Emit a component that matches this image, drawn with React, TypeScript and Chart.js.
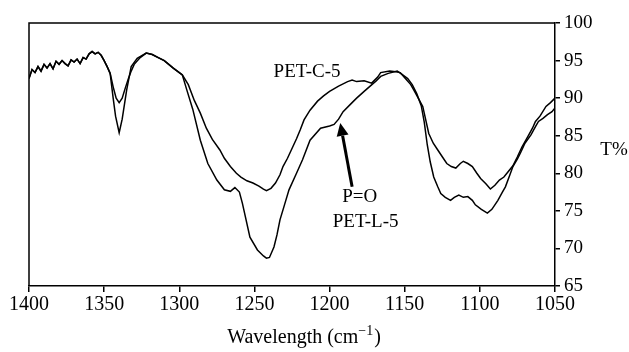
import { useEffect, useRef } from "react";
import { Chart, registerables } from "chart.js";

Chart.register(...registerables);

const FONT = "'Liberation Serif', 'Times New Roman', serif";

// Shared noisy start of both spectra (wavenumber, T%)
const sharedX = [1400, 1398, 1396, 1394, 1392, 1390, 1388, 1386, 1384, 1382, 1380, 1378, 1376, 1374, 1372, 1370, 1368, 1366, 1364, 1362, 1360, 1358, 1356, 1354, 1352, 1350, 1348, 1346];
const sharedY = [92.6, 93.8, 93.4, 94.2, 93.6, 94.5, 94.0, 94.6, 93.9, 94.9, 94.5, 95.0, 94.6, 94.3, 95.1, 94.8, 95.2, 94.6, 95.4, 95.2, 95.9, 96.2, 95.9, 96.1, 95.7, 95.0, 94.2, 93.3];

// PET-C-5
const pcX = [1344, 1342, 1340, 1338, 1336, 1334, 1332, 1330, 1326, 1322, 1318, 1314, 1310, 1304, 1298, 1294, 1290, 1286, 1282, 1278, 1273, 1270, 1266, 1262, 1259, 1255, 1251, 1247, 1244, 1242, 1239, 1236, 1233, 1231, 1228, 1225, 1222, 1219.5, 1217, 1213, 1208, 1204, 1200, 1194, 1188, 1185, 1182, 1177, 1172, 1168, 1166, 1160, 1156, 1153, 1150, 1146, 1144, 1141, 1138, 1134, 1131, 1128, 1125, 1122, 1119, 1116, 1113, 1111, 1108, 1105, 1102, 1099.5, 1096, 1093, 1090, 1087, 1084, 1082, 1078, 1075, 1072, 1068, 1065, 1063, 1060, 1056, 1053, 1050];
const pcY = [91.5, 90.0, 89.4, 90.0, 91.3, 92.5, 93.6, 94.5, 95.4, 96.0, 95.8, 95.4, 95.0, 94.0, 93.1, 91.8, 89.7, 88.0, 86.0, 84.5, 83.1, 82.0, 80.9, 80.0, 79.5, 79.0, 78.7, 78.3, 77.9, 77.7, 78.0, 78.7, 79.8, 80.9, 82.0, 83.3, 84.6, 85.8, 87.1, 88.4, 89.6, 90.3, 90.9, 91.6, 92.2, 92.4, 92.2, 92.3, 92.0, 92.8, 93.4, 93.6, 93.5, 93.4, 92.7, 91.8, 91.1, 90.0, 88.9, 85.3, 84.0, 83.1, 82.2, 81.3, 80.9, 80.7, 81.3, 81.6, 81.3, 80.9, 80.0, 79.3, 78.6, 77.9, 78.4, 79.1, 79.5, 80.0, 81.0, 82.2, 83.5, 84.9, 86.0, 86.9, 87.6, 88.9, 89.4, 90.0];

// PET-L-5
const plX = [1344, 1342.4, 1340, 1338, 1335, 1332, 1328, 1322, 1318, 1314, 1310, 1304, 1298, 1295, 1291, 1286, 1281, 1275, 1270, 1266, 1263, 1260, 1258, 1256, 1253, 1248, 1244, 1242, 1240, 1237, 1235, 1233, 1230, 1227, 1222, 1218, 1213, 1206, 1200, 1197, 1194, 1191, 1186, 1182, 1177, 1173, 1169, 1166, 1161, 1155, 1152, 1148, 1145, 1142, 1139, 1137, 1135, 1133, 1130.7, 1128, 1126, 1123, 1119.5, 1117, 1114, 1111, 1108, 1105, 1103, 1099, 1095, 1092, 1088, 1085, 1083, 1080, 1078, 1075, 1073, 1070, 1066, 1063, 1061, 1058, 1055, 1052, 1050];
const plY = [90.0, 87.6, 85.4, 87.2, 91.1, 94.2, 95.3, 96.0, 95.8, 95.4, 95.0, 94.0, 93.1, 91.1, 88.5, 84.4, 81.3, 79.1, 77.8, 77.6, 78.1, 77.5, 76.0, 74.2, 71.5, 69.8, 69.0, 68.7, 68.8, 70.2, 71.8, 73.8, 75.8, 77.8, 80.0, 81.8, 84.4, 86.0, 86.3, 86.5, 87.2, 88.2, 89.2, 90.0, 90.9, 91.6, 92.3, 92.9, 93.3, 93.6, 93.2, 92.6, 91.8, 90.6, 89.0, 86.8, 83.8, 81.5, 79.5, 78.2, 77.3, 76.8, 76.4, 76.8, 77.1, 76.8, 76.9, 76.4, 75.8, 75.2, 74.7, 75.2, 76.4, 77.5, 78.2, 79.8, 80.9, 81.9, 82.7, 84.0, 85.1, 86.2, 86.9, 87.3, 87.8, 88.2, 88.7];

const labels = [
  { text: "PET-C-5", x: 1215, y: 93.5 },
  { text: "P=O", x: 1180, y: 76.8 },
  { text: "PET-L-5", x: 1176, y: 73.5 },
];
const arrow = { fromX: 1185, fromY: 78.2, toX: 1192.9, toY: 86.7 };
const yAxisLabel = { text: "T%", y: 83.1 };
const xTitleMain = "Wavelength (cm";
const xTitleSup = "\u22121";
const xTitleEnd = ")";

function toPoints(xs: number[], ys: number[]) {
  return xs.map((x, i) => ({ x, y: ys[i] }));
}

const decorPlugin = {
  id: "decor",
  afterDraw(chart: any) {
    const { ctx, chartArea, scales } = chart;
    const xs = scales.x;
    const ys = scales.y;
    ctx.save();
    // top & left frame lines
    ctx.strokeStyle = "#000";
    ctx.lineWidth = 1.5;
    ctx.beginPath();
    ctx.moveTo(chartArea.left, chartArea.bottom);
    ctx.lineTo(chartArea.left, chartArea.top);
    ctx.lineTo(chartArea.right, chartArea.top);
    ctx.stroke();

    ctx.fillStyle = "#000";
    ctx.font = `19px ${FONT}`;
    ctx.textAlign = "center";
    ctx.textBaseline = "middle";
    for (const l of labels) {
      ctx.fillText(l.text, xs.getPixelForValue(l.x), ys.getPixelForValue(l.y));
    }
    ctx.fillText(yAxisLabel.text, chartArea.right + 59, ys.getPixelForValue(yAxisLabel.y));

    // x-axis title with superscript
    ctx.textAlign = "left";
    ctx.textBaseline = "alphabetic";
    const bigFont = `20px ${FONT}`;
    const smallFont = `14px ${FONT}`;
    ctx.font = bigFont;
    const w1 = ctx.measureText(xTitleMain).width;
    const w3 = ctx.measureText(xTitleEnd).width;
    ctx.font = smallFont;
    const w2 = ctx.measureText(xTitleSup).width;
    const total = w1 + w2 + w3 + 1;
    const cx = (chartArea.left + chartArea.right) / 2 + 12;
    let tx = cx - total / 2;
    const baseY = chart.height - 9;
    ctx.font = bigFont;
    ctx.fillText(xTitleMain, tx, baseY);
    tx += w1;
    ctx.font = smallFont;
    ctx.fillText(xTitleSup, tx, baseY - 8);
    tx += w2 + 1;
    ctx.font = bigFont;
    ctx.fillText(xTitleEnd, tx, baseY);

    // arrow
    const x1 = xs.getPixelForValue(arrow.fromX);
    const y1 = ys.getPixelForValue(arrow.fromY);
    const x2 = xs.getPixelForValue(arrow.toX);
    const y2 = ys.getPixelForValue(arrow.toY);
    const ang = Math.atan2(y2 - y1, x2 - x1);
    const headLen = 13;
    const headW = 6;
    const bx = x2 - headLen * Math.cos(ang);
    const by = y2 - headLen * Math.sin(ang);
    ctx.lineWidth = 3;
    ctx.beginPath();
    ctx.moveTo(x1, y1);
    ctx.lineTo(bx, by);
    ctx.stroke();
    ctx.beginPath();
    ctx.moveTo(x2, y2);
    ctx.lineTo(bx + headW * Math.sin(ang), by - headW * Math.cos(ang));
    ctx.lineTo(bx - headW * Math.sin(ang), by + headW * Math.cos(ang));
    ctx.closePath();
    ctx.fill();
    ctx.restore();
  },
};

export default function App() {
  const ref = useRef<HTMLCanvasElement | null>(null);
  useEffect(() => {
    document.body.style.margin = "0";
    if (!ref.current) return;
    const chart = new Chart(ref.current, {
      type: "line",
      data: {
        datasets: [
          {
            label: "PET-C-5",
            data: toPoints([...sharedX, ...pcX], [...sharedY, ...pcY]),
            borderColor: "#000",
            borderWidth: 1.5,
            pointRadius: 0,
            tension: 0,
            fill: false,
          },
          {
            label: "PET-L-5",
            data: toPoints([...sharedX, ...plX], [...sharedY, ...plY]),
            borderColor: "#000",
            borderWidth: 1.5,
            pointRadius: 0,
            tension: 0,
            fill: false,
          },
        ],
      },
      options: {
        animation: false,
        responsive: false,
        layout: { padding: { left: 29, top: 23, right: 0, bottom: 0 } },
        plugins: { legend: { display: false }, tooltip: { enabled: false } },
        scales: {
          x: {
            type: "linear",
            reverse: true,
            min: 1050,
            max: 1400,
            afterFit: (s: any) => {
              s.height = 66;
            },
            ticks: {
              stepSize: 50,
              color: "#000",
              font: { family: FONT, size: 20 },
              padding: 1,
              maxRotation: 0,
              callback: (v: any) => String(v),
            },
            grid: {
              display: true,
              drawOnChartArea: false,
              drawTicks: true,
              tickLength: 6,
              color: "#000",
              lineWidth: 1.5,
            },
            border: { display: true, color: "#000", width: 1.5 },
          },
          y: {
            type: "linear",
            position: "right",
            min: 65,
            max: 100,
            afterFit: (s: any) => {
              s.width = 74;
            },
            ticks: {
              stepSize: 5,
              color: "#000",
              font: { family: FONT, size: 19 },
              padding: 4,
              callback: (v: any) => String(v),
            },
            grid: {
              display: true,
              drawOnChartArea: false,
              drawTicks: true,
              tickLength: 5,
              color: "#000",
              lineWidth: 1.5,
            },
            border: { display: true, color: "#000", width: 1.5 },
          },
        },
      },
      plugins: [decorPlugin],
    });
    return () => chart.destroy();
  }, []);
  return (
    <div style={{ position: "absolute", left: 0, top: 0, width: 629, height: 352, background: "#fff" }}>
      <canvas ref={ref} width={629} height={352} />
    </div>
  );
}
